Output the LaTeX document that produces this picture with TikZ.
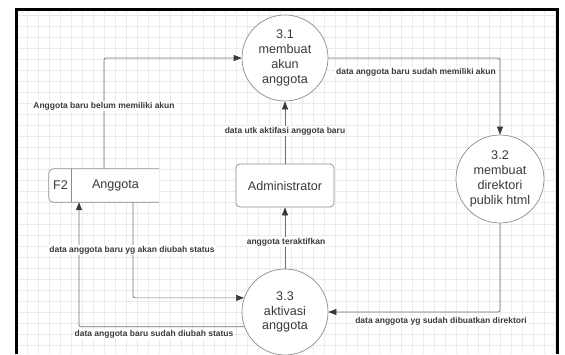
\documentclass[tikz,border=0pt]{standalone}
\usepackage{fontspec}
\setmainfont{Liberation Sans}
\usetikzlibrary{arrows.meta}
\definecolor{gridgray}{HTML}{EBEBEB}
\definecolor{linegray}{HTML}{707070}
\definecolor{shapegray}{HTML}{8C8C8C}
\definecolor{textgray}{HTML}{3A3A3A}

\begin{document}
\begin{tikzpicture}[x=1pt,y=-1pt,
  proc/.style={circle,draw=shapegray,fill=white,line width=0.7pt,minimum size=86pt,inner sep=0pt,
    align=center,text=textgray,font=\fontsize{12.6}{14.8}\selectfont},
  entity/.style={rectangle,rounded corners=4pt,draw=shapegray,fill=white,line width=0.7pt,
    minimum width=98pt,minimum height=43pt,text=textgray,font=\fontsize{12.6}{14.8}\selectfont},
  storebox/.style={rectangle,fill=white,minimum width=110pt,minimum height=33pt,inner sep=0pt},
  storetext/.style={text=textgray,font=\fontsize{12.6}{14.8}\selectfont},
  flow/.style={draw=linegray,line width=0.7pt,rounded corners=2pt,
    -{Triangle[length=8pt,width=6pt,color=textgray]}},
  lbl/.style={fill=white,inner sep=1pt,text=textgray,font=\fontsize{8.5}{10}\selectfont\bfseries},
  gridline/.style={gridgray,line width=0.5pt}]
\useasboundingbox (0,0) rectangle (565,354);
% background grid
\begin{scope}
\clip (16,9) rectangle (557,354);
\foreach \gx in {16,27,...,557} \draw[gridline] (\gx,9) -- (\gx,354);
\foreach \gy in {15,26,...,354} \draw[gridline] (16,\gy) -- (557,\gy);
\end{scope}
\draw [black,line width=3pt] (16,354) -- (16,9) -- (557,9) -- (557,354);
% processes
\node[proc] (p31) at (285,58) {3.1\\membuat\\akun\\anggota};
\node[proc,minimum size=88pt] (p32) at (500,179) {3.2\\membuat\\direktori\\publik html};
\node[proc] (p33) at (285,312) {3.3\\aktivasi\\anggota};
% entity
\node[entity] (admin) at (285,185.5) {Administrator};
% data store
\node[storebox] (store) at (104,185.5) {};
\draw [shapegray,line width=0.7pt,rounded corners=4pt] (store.north east) -- (store.north west)
  -- (store.south west) -- (store.south east);
\draw [shapegray,line width=0.7pt] ([xshift=23pt]store.north west) -- ([xshift=23pt]store.south west);
\node[storetext] (f2) at (60.5,185.5) {F2};
\node[storetext] (anggota) at (115.5,185.5) {Anggota};
% flows
\draw[flow] (store.north) |- (p31.west);
\draw[flow] (admin.north) -- (p31.south);
\draw[flow] (p31.east) -| (p32.north);
\draw[flow] (p32.south) |- (p33.east);
\draw[flow] (p33.north) -- (admin.south);
\draw[flow] ([xshift=29pt]store.south) |- (p33.161);
\draw[flow] (p33.200) -| ([xshift=-25pt]store.south);
% labels
\node[lbl] (l1) at (104,106) {Anggota baru belum memiliki akun};
\node[lbl] (l2) at (285,131) {data utk aktifasi anggota baru};
\node[lbl] (l3) at (416,72) {data anggota baru sudah memiliki akun};
\node[lbl] (l4) at (441,321) {data anggota yg sudah dibuatkan direktori};
\node[lbl] (l5) at (286,242) {anggota teraktifkan};
\node[lbl] (l6) at (132,250) {data anggota baru yg akan diubah status};
\node[lbl] (l7) at (154,334) {data anggota baru sudah diubah status};
\end{tikzpicture}
\end{document}
